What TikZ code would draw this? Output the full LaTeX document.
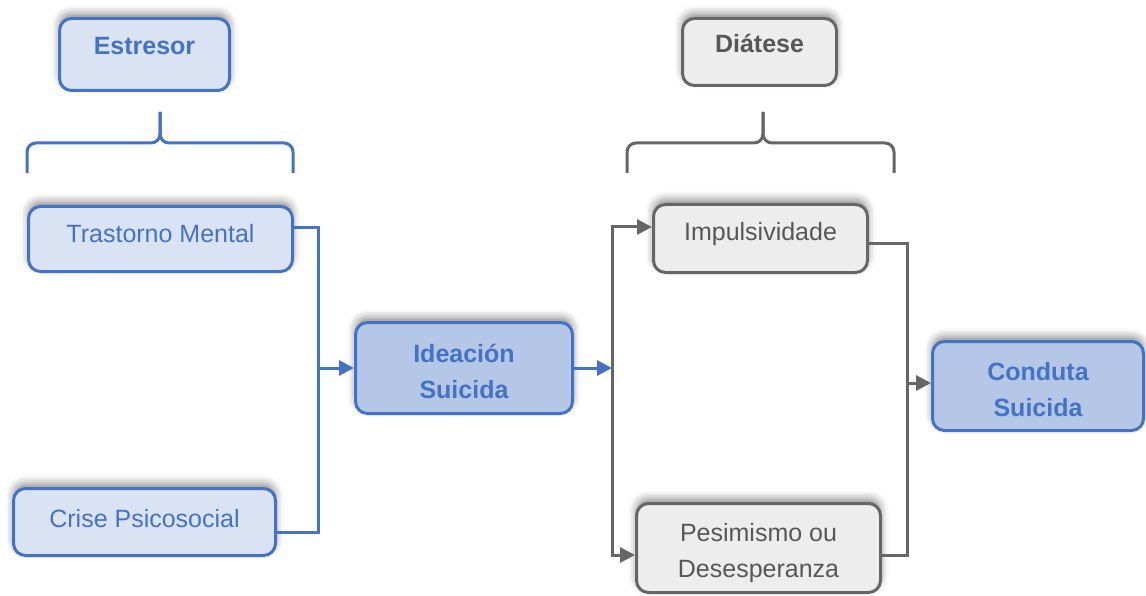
\documentclass[tikz,border=0pt]{standalone}
\usepackage{fontspec}
\setmainfont{Liberation Sans}
\usetikzlibrary{arrows.meta,shadows.blur}
\definecolor{bblue}{HTML}{4472C4}
\definecolor{lblue}{HTML}{DAE3F3}
\definecolor{mblue}{HTML}{B4C7E7}
\definecolor{gline}{HTML}{666666}
\definecolor{gfill}{HTML}{EDEDED}
\definecolor{gtext}{HTML}{575757}
\tikzset{
  shad/.style={blur shadow={shadow xshift=0pt, shadow yshift=5pt, shadow blur radius=8pt, shadow opacity=45}},
  boxbase/.style={rounded corners=12pt, line width=3pt, shad, align=center,
    font=\fontsize{25pt}{36.5pt}\selectfont, inner sep=0pt},
  bluebox/.style={boxbase, draw=bblue, fill=lblue, text=bblue},
  darkbox/.style={boxbase, draw=bblue, fill=mblue, text=bblue, font=\fontsize{25pt}{36.5pt}\selectfont\bfseries},
  graybox/.style={boxbase, draw=gline, fill=gfill, text=gtext},
  bline/.style={draw=bblue, line width=3pt},
  gln/.style={draw=gline, line width=3pt},
  barrow/.style={bline, -{Triangle[length=15pt,width=15pt]}},
  garrow/.style={gln, -{Triangle[length=15pt,width=15pt]}},
  bracebl/.style={draw=bblue, line width=3pt, rounded corners=9pt},
  bracegr/.style={draw=gline, line width=3pt, rounded corners=9pt},
}
\begin{document}
\begin{tikzpicture}[x=1pt,y=-1pt]
\useasboundingbox (0,0) rectangle (1146,596);
% boxes
\node[bluebox, minimum width=170pt, minimum height=72pt, text height=18pt, text depth=18pt, font=\fontsize{25pt}{36.5pt}\selectfont\bfseries] (est) at (144.5,54.5) {Estresor};
\node[bluebox, minimum width=264pt, minimum height=65pt, text height=18pt, text depth=10pt] (tm) at (160.5,239) {Trastorno Mental};
\node[bluebox, minimum width=262pt, minimum height=67pt, text height=18pt, text depth=8pt] (cri) at (144.5,522) {Crise Psicosocial};
\node[darkbox, minimum width=217pt, minimum height=91pt] (ide) at (464,368) {\rule{0pt}{25pt}Ideación\\Suicida};
\node[graybox, minimum width=154pt, minimum height=67pt, text height=18pt, text depth=16pt, font=\fontsize{25pt}{36.5pt}\selectfont\bfseries] (dia) at (759.5,52) {Diátese};
\node[graybox, minimum width=214pt, minimum height=68pt, text height=18pt, text depth=14pt] (imp) at (760.5,238.5) {Impulsividade};
\node[graybox, minimum width=244pt, minimum height=89pt] (pes) at (758.5,548) {\rule{0pt}{28pt}Pesimismo ou\\Desesperanza};
\node[darkbox, minimum width=211pt, minimum height=89pt] (con) at (1038,386) {\rule{0pt}{25pt}Conduta\\Suicida};
% braces
\draw[bracebl] (27,173) -- (27,143) -- (160,143) -- (160,112);
\draw[bracebl] (293,173) -- (293,143) -- (160,143) -- (160,112);
\draw[bracegr] (627,173) -- (627,143) -- (763,143) -- (763,112);
\draw[bracegr] (894,173) -- (894,143) -- (763,143) -- (763,112);
% junctions
\coordinate (j1) at (318,368);
\coordinate (j2) at (612,368);
\coordinate (j3) at (907,383);
% connectors left
\draw[bline] ([yshift=11pt]tm.east) -| (j1);
\draw[bline] ([yshift=-10pt]cri.east) -| (j1);
\draw[barrow] (j1) -- (ide.west);
% middle
\draw[barrow] (ide.east) -- (j2);
\draw[garrow] (j2) |- ([yshift=11.5pt]imp.west);
\draw[garrow] (j2) |- ([yshift=-7pt]pes.west);
% right
\draw[gln] ([yshift=-5.5pt]imp.east) -| (j3);
\draw[gln] ([yshift=-7pt]pes.east) -| (j3);
\draw[garrow] (j3) -- ([yshift=3pt]con.west);
\end{tikzpicture}
\end{document}
